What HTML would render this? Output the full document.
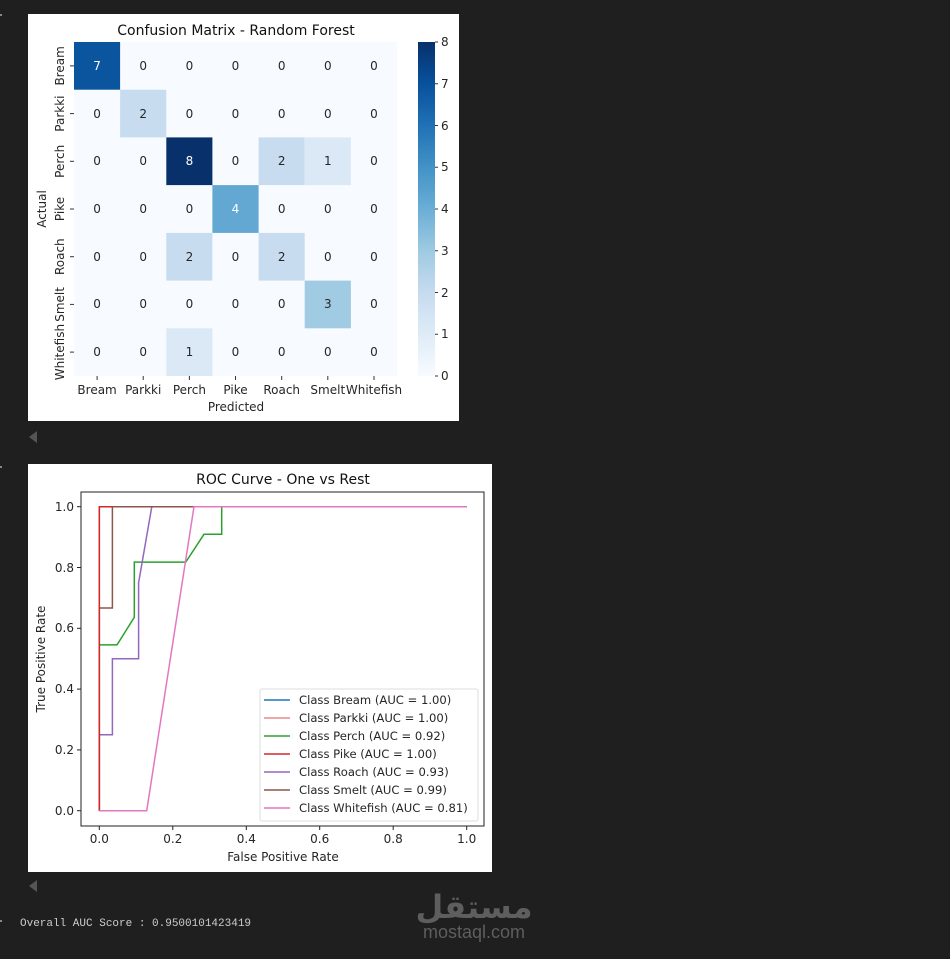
<!DOCTYPE html>
<html><head><meta charset="utf-8"><style>
html,body{margin:0;padding:0;background:#1f1f1f;width:950px;height:959px;overflow:hidden}
svg{display:block}
text{font-family:"DejaVu Sans","Liberation Sans",sans-serif}
</style></head><body>
<svg width="950" height="959" viewBox="0 0 950 959" xmlns="http://www.w3.org/2000/svg">
<defs>
<linearGradient id="cb" x1="0" y1="1" x2="0" y2="0">
<stop offset="0" stop-color="#f7fbff"/><stop offset="0.125" stop-color="#deebf7"/>
<stop offset="0.25" stop-color="#c6dbef"/><stop offset="0.375" stop-color="#9ecae1"/>
<stop offset="0.5" stop-color="#6baed6"/><stop offset="0.625" stop-color="#4292c6"/>
<stop offset="0.75" stop-color="#2171b5"/><stop offset="0.875" stop-color="#08519c"/>
<stop offset="1" stop-color="#08306b"/></linearGradient>
</defs>
<rect x="0" y="14" width="2" height="2" fill="#888"/>
<rect x="0" y="466" width="2" height="2" fill="#888"/>
<rect x="0" y="920" width="2" height="2" fill="#888"/>
<!-- panel 1 -->
<rect x="28" y="14" width="431" height="407" fill="#fff"/>
<text x="236" y="35" font-size="14" text-anchor="middle" fill="#111">Confusion Matrix - Random Forest</text>
<rect x="74" y="42" width="323" height="334" fill="#f7fbff"/>
<rect x="74" y="42" width="46.1" height="47.7" fill="#0b559f"/>
<rect x="120.1" y="89.7" width="46.2" height="47.7" fill="#c8dcf0"/>
<rect x="166.3" y="137.4" width="46.1" height="47.7" fill="#08306b"/>
<rect x="258.6" y="137.4" width="46.1" height="47.7" fill="#c8dcf0"/>
<rect x="304.7" y="137.4" width="46.2" height="47.7" fill="#dbe9f6"/>
<rect x="212.4" y="185.1" width="46.2" height="47.8" fill="#63a8d3"/>
<rect x="166.3" y="232.9" width="46.1" height="47.7" fill="#c8dcf0"/>
<rect x="258.6" y="232.9" width="46.1" height="47.7" fill="#c8dcf0"/>
<rect x="304.7" y="280.6" width="46.2" height="47.7" fill="#a0cbe2"/>
<rect x="166.3" y="328.3" width="46.1" height="47.7" fill="#dbe9f6"/>
<g font-size="12" text-anchor="middle" fill="#262626">
<text x="97.1" y="70" fill="#fff">7</text><text x="143.2" y="70">0</text><text x="189.4" y="70">0</text><text x="235.5" y="70">0</text><text x="281.7" y="70">0</text><text x="327.8" y="70">0</text><text x="374" y="70">0</text>
<text x="97.1" y="118">0</text><text x="143.2" y="118">2</text><text x="189.4" y="118">0</text><text x="235.5" y="118">0</text><text x="281.7" y="118">0</text><text x="327.8" y="118">0</text><text x="374" y="118">0</text>
<text x="97.1" y="165">0</text><text x="143.2" y="165">0</text><text x="189.4" y="165" fill="#fff">8</text><text x="235.5" y="165">0</text><text x="281.7" y="165">2</text><text x="327.8" y="165">1</text><text x="374" y="165">0</text>
<text x="97.1" y="213">0</text><text x="143.2" y="213">0</text><text x="189.4" y="213">0</text><text x="235.5" y="213" fill="#fff">4</text><text x="281.7" y="213">0</text><text x="327.8" y="213">0</text><text x="374" y="213">0</text>
<text x="97.1" y="261">0</text><text x="143.2" y="261">0</text><text x="189.4" y="261">2</text><text x="235.5" y="261">0</text><text x="281.7" y="261">2</text><text x="327.8" y="261">0</text><text x="374" y="261">0</text>
<text x="97.1" y="308">0</text><text x="143.2" y="308">0</text><text x="189.4" y="308">0</text><text x="235.5" y="308">0</text><text x="281.7" y="308">0</text><text x="327.8" y="308">3</text><text x="374" y="308">0</text>
<text x="97.1" y="356">0</text><text x="143.2" y="356">0</text><text x="189.4" y="356">1</text><text x="235.5" y="356">0</text><text x="281.7" y="356">0</text><text x="327.8" y="356">0</text><text x="374" y="356">0</text>
</g>
<g stroke="#333" stroke-width="1">
<line x1="70" y1="65.9" x2="74" y2="65.9"/><line x1="70" y1="113.6" x2="74" y2="113.6"/><line x1="70" y1="161.3" x2="74" y2="161.3"/><line x1="70" y1="209" x2="74" y2="209"/><line x1="70" y1="256.7" x2="74" y2="256.7"/><line x1="70" y1="304.4" x2="74" y2="304.4"/><line x1="70" y1="352.1" x2="74" y2="352.1"/>
<line x1="97.1" y1="376" x2="97.1" y2="380"/><line x1="143.2" y1="376" x2="143.2" y2="380"/><line x1="189.4" y1="376" x2="189.4" y2="380"/><line x1="235.5" y1="376" x2="235.5" y2="380"/><line x1="281.7" y1="376" x2="281.7" y2="380"/><line x1="327.8" y1="376" x2="327.8" y2="380"/><line x1="374" y1="376" x2="374" y2="380"/>
</g>
<g font-size="12" fill="#262626" text-anchor="middle">
<text x="97.1" y="394">Bream</text><text x="143.2" y="394">Parkki</text><text x="189.4" y="394">Perch</text><text x="235.5" y="394">Pike</text><text x="281.7" y="394">Roach</text><text x="327.8" y="394">Smelt</text><text x="374" y="394">Whitefish</text>
<text x="236" y="411">Predicted</text>
<text transform="translate(64,65.9) rotate(-90)">Bream</text>
<text transform="translate(64,113.6) rotate(-90)">Parkki</text>
<text transform="translate(64,161.3) rotate(-90)">Perch</text>
<text transform="translate(64,209) rotate(-90)">Pike</text>
<text transform="translate(64,256.7) rotate(-90)">Roach</text>
<text transform="translate(64,304.4) rotate(-90)">Smelt</text>
<text transform="translate(64,352.1) rotate(-90)">Whitefish</text>
<text transform="translate(46,209) rotate(-90)">Actual</text>
</g>
<rect x="418" y="42" width="17" height="334" fill="url(#cb)"/>
<g stroke="#333"><line x1="435" y1="376" x2="438" y2="376"/><line x1="435" y1="334.25" x2="438" y2="334.25"/><line x1="435" y1="292.5" x2="438" y2="292.5"/><line x1="435" y1="250.75" x2="438" y2="250.75"/><line x1="435" y1="209" x2="438" y2="209"/><line x1="435" y1="167.25" x2="438" y2="167.25"/><line x1="435" y1="125.5" x2="438" y2="125.5"/><line x1="435" y1="83.75" x2="438" y2="83.75"/><line x1="435" y1="42" x2="438" y2="42"/></g>
<g font-size="12" fill="#262626">
<text x="441" y="380">0</text><text x="441" y="338">1</text><text x="441" y="297">2</text><text x="441" y="255">3</text><text x="441" y="213">4</text><text x="441" y="171">5</text><text x="441" y="130">6</text><text x="441" y="88">7</text><text x="441" y="46">8</text>
</g>
<polygon points="37,431 29,437 37,443" fill="#555"/>
<!-- panel 2 -->
<rect x="28" y="464" width="464" height="408" fill="#fff"/>
<text x="283" y="484" font-size="14" text-anchor="middle" fill="#111">ROC Curve - One vs Rest</text>
<g fill="none" stroke-width="1.5">
<polyline points="99.3,810.7 99.3,506.7 466.7,506.7" stroke="#1f77b4"/>
<polyline points="99.3,810.7 99.3,506.7 466.7,506.7" stroke="#e88888"/>
<polyline points="99.3,810.7 99.3,644.9 117,644.9 134.3,617.3 134.3,562.1 185.7,562.1 204,534.3 221.7,534.3 221.7,506.7 466.7,506.7" stroke="#2ca02c"/>
<polyline points="99.3,810.7 99.3,734.7 112.4,734.7 112.4,658.7 138.6,658.7 138.6,582.7 151.8,506.7 466.7,506.7" stroke="#9467bd"/>
<polyline points="99.3,810.7 99.3,608 112.4,608 112.4,506.7 193.4,506.7" stroke="#8c564b"/>
<polyline points="99.3,810.7 99.3,506.7 112.4,506.7" stroke="#d62728"/>
<polyline points="99.3,810.7 146.7,810.7 194,506.7 466.7,506.7" stroke="#e377c2"/>
</g>
<rect x="81" y="492" width="403" height="334" fill="none" stroke="#222" stroke-width="1"/>
<g stroke="#222"><line x1="77" y1="810.7" x2="81" y2="810.7"/><line x1="77" y1="749.9" x2="81" y2="749.9"/><line x1="77" y1="689.1" x2="81" y2="689.1"/><line x1="77" y1="628.3" x2="81" y2="628.3"/><line x1="77" y1="567.5" x2="81" y2="567.5"/><line x1="77" y1="506.7" x2="81" y2="506.7"/>
<line x1="99.3" y1="826" x2="99.3" y2="830"/><line x1="172.8" y1="826" x2="172.8" y2="830"/><line x1="246.3" y1="826" x2="246.3" y2="830"/><line x1="319.7" y1="826" x2="319.7" y2="830"/><line x1="393.2" y1="826" x2="393.2" y2="830"/><line x1="466.7" y1="826" x2="466.7" y2="830"/></g>
<g font-size="12" fill="#262626">
<g text-anchor="end"><text x="74" y="815">0.0</text><text x="74" y="754">0.2</text><text x="74" y="693">0.4</text><text x="74" y="632">0.6</text><text x="74" y="572">0.8</text><text x="74" y="511">1.0</text></g>
<g text-anchor="middle"><text x="99.3" y="843">0.0</text><text x="172.8" y="843">0.2</text><text x="246.3" y="843">0.4</text><text x="319.7" y="843">0.6</text><text x="393.2" y="843">0.8</text><text x="466.7" y="843">1.0</text>
<text x="283" y="861" font-size="12">False Positive Rate</text>
<text transform="translate(45,659) rotate(-90)" font-size="12">True Positive Rate</text></g>
</g>
<rect x="260" y="689" width="218" height="132" rx="2" fill="#fff" fill-opacity="0.8" stroke="#ddd"/>
<g stroke-width="1.5">
<line x1="264" y1="700" x2="290" y2="700" stroke="#1f77b4"/>
<line x1="264" y1="718" x2="290" y2="718" stroke="#e88888"/>
<line x1="264" y1="736" x2="290" y2="736" stroke="#2ca02c"/>
<line x1="264" y1="754" x2="290" y2="754" stroke="#d62728"/>
<line x1="264" y1="772" x2="290" y2="772" stroke="#9467bd"/>
<line x1="264" y1="790" x2="290" y2="790" stroke="#8c564b"/>
<line x1="264" y1="808" x2="290" y2="808" stroke="#e377c2"/>
</g>
<g font-size="11.6" fill="#262626">
<text x="299" y="704">Class Bream (AUC = 1.00)</text>
<text x="299" y="722">Class Parkki (AUC = 1.00)</text>
<text x="299" y="740">Class Perch (AUC = 0.92)</text>
<text x="299" y="758">Class Pike (AUC = 1.00)</text>
<text x="299" y="776">Class Roach (AUC = 0.93)</text>
<text x="299" y="794">Class Smelt (AUC = 0.99)</text>
<text x="299" y="812">Class Whitefish (AUC = 0.81)</text>
</g>
<polygon points="37,880 29,886 37,892" fill="#555"/>
<text x="20" y="926" font-size="11" fill="#cccccc" style="font-family:'Liberation Mono','DejaVu Sans Mono',monospace">Overall AUC Score : 0.9500101423419</text>
<text x="474" y="918" font-size="32" font-weight="bold" text-anchor="middle" fill="#5e5e5e" style="font-family:'DejaVu Sans',sans-serif">مستقل</text>
<text x="474" y="938" font-size="18" text-anchor="middle" fill="#5e5e5e" style="font-family:'Liberation Sans',sans-serif">mostaql.com</text>
</svg>
</body></html>
